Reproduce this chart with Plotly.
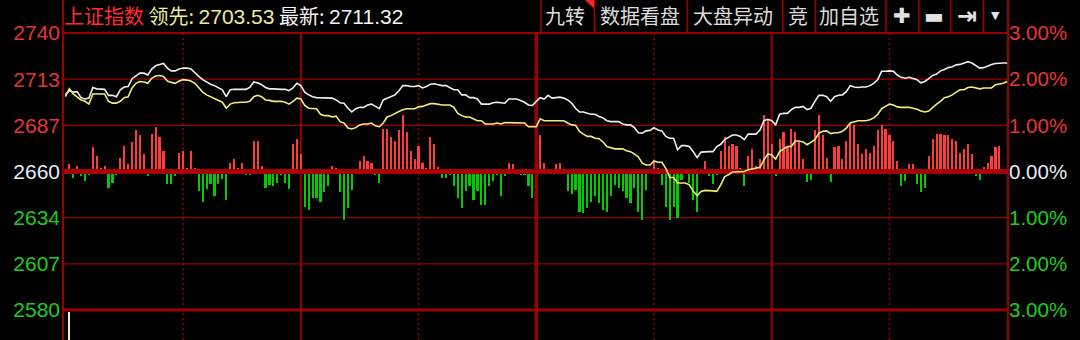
import plotly.graph_objects as go

# ---------------- data ----------------
minutes = list(range(241))

# 上证指数 (white) – percent change vs previous close, one value per minute
white_pct = [
    1.66, 1.75, 1.72, 1.73, 1.60, 1.57, 1.59, 1.82, 1.79, 1.79,
    1.78, 1.65, 1.65, 1.62, 1.77, 1.83, 1.84, 2.01, 2.08, 2.13,
    2.13, 2.09, 2.22, 2.29, 2.32, 2.34, 2.24, 2.18, 2.18, 2.22,
    2.24, 2.24, 2.22, 2.13, 2.06, 1.99, 1.94, 1.89, 1.86, 1.82,
    1.77, 1.62, 1.77, 1.78, 1.78, 1.78, 1.78, 1.82, 1.94, 1.92,
    1.88, 1.82, 1.79, 1.79, 1.78, 1.78, 1.78, 1.75, 1.81, 1.91,
    1.86, 1.72, 1.66, 1.62, 1.60, 1.60, 1.59, 1.59, 1.59, 1.55,
    1.49, 1.48, 1.37, 1.29, 1.36, 1.39, 1.39, 1.44, 1.46, 1.41,
    1.36, 1.55, 1.59, 1.63, 1.66, 1.75, 1.86, 1.86, 1.84, 1.84,
    1.86, 1.81, 1.84, 1.89, 1.90, 1.88, 1.86, 1.86, 1.81, 1.77,
    1.77, 1.66, 1.66, 1.60, 1.60, 1.57, 1.46, 1.46, 1.46, 1.49,
    1.50, 1.49, 1.48, 1.57, 1.57, 1.57, 1.54, 1.50, 1.44, 1.43,
    1.52, 1.60, 1.57, 1.65, 1.59, 1.60, 1.61, 1.59, 1.55, 1.48,
    1.37, 1.29, 1.29, 1.26, 1.24, 1.24, 1.19, 1.16, 1.10, 1.08,
    1.08, 1.08, 1.03, 1.01, 1.01, 0.95, 0.84, 0.83, 0.88, 0.89,
    0.95, 0.90, 0.88, 0.76, 0.72, 0.72, 0.47, 0.56, 0.56, 0.54,
    0.43, 0.30, 0.42, 0.43, 0.43, 0.43, 0.54, 0.59, 0.69, 0.74,
    0.79, 0.79, 0.76, 0.69, 0.81, 0.81, 0.81, 0.90, 1.10, 1.13,
    1.10, 1.01, 1.24, 1.26, 1.26, 1.34, 1.39, 1.39, 1.41, 1.34,
    1.37, 1.52, 1.65, 1.65, 1.62, 1.52, 1.62, 1.65, 1.66, 1.73,
    1.86, 1.83, 1.82, 1.83, 1.83, 1.86, 1.91, 1.99, 2.17, 2.17,
    2.18, 2.17, 2.09, 2.04, 2.02, 2.04, 2.01, 1.99, 1.92, 1.95,
    2.01, 2.08, 2.11, 2.18, 2.21, 2.25, 2.27, 2.31, 2.32, 2.35,
    2.38, 2.35, 2.30, 2.24, 2.25, 2.29, 2.32, 2.34, 2.35, 2.35,
    2.35,
]

# 领先 (yellow) – percent change, one value per minute
yellow_pct = [
    1.62, 1.79, 1.68, 1.62, 1.55, 1.52, 1.46, 1.68, 1.68, 1.68,
    1.68, 1.52, 1.48, 1.48, 1.52, 1.60, 1.62, 1.81, 1.91, 1.95,
    1.94, 1.91, 2.02, 2.07, 2.08, 2.06, 1.96, 1.93, 1.91, 1.96,
    1.99, 1.98, 1.96, 1.91, 1.82, 1.72, 1.66, 1.62, 1.59, 1.55,
    1.50, 1.37, 1.46, 1.49, 1.50, 1.50, 1.50, 1.52, 1.62, 1.65,
    1.62, 1.55, 1.54, 1.52, 1.52, 1.52, 1.50, 1.46, 1.52, 1.59,
    1.57, 1.43, 1.37, 1.36, 1.36, 1.24, 1.21, 1.21, 1.18, 1.20,
    1.08, 1.05, 0.94, 0.92, 0.95, 1.01, 1.03, 1.03, 1.05, 0.99,
    0.97, 1.05, 1.18, 1.21, 1.26, 1.30, 1.34, 1.36, 1.36, 1.36,
    1.40, 1.41, 1.44, 1.47, 1.47, 1.45, 1.44, 1.44, 1.44, 1.39,
    1.26, 1.21, 1.18, 1.18, 1.14, 1.10, 1.10, 1.03, 1.03, 1.03,
    1.05, 1.03, 1.06, 1.06, 1.06, 1.06, 1.06, 1.05, 0.97, 0.97,
    0.97, 1.14, 1.10, 1.10, 1.10, 1.10, 1.10, 1.10, 1.05, 1.01,
    1.00, 0.87, 0.81, 0.76, 0.76, 0.72, 0.71, 0.64, 0.54, 0.51,
    0.49, 0.49, 0.49, 0.45, 0.43, 0.38, 0.32, 0.18, 0.14, 0.14,
    0.23, 0.20, 0.20, 0.07, -0.13, -0.13, -0.25, -0.25, -0.25, -0.29,
    -0.43, -0.52, -0.43, -0.41, -0.41, -0.42, -0.43, -0.29, -0.11, -0.07,
    -0.01, -0.01, -0.01, 0.00, 0.04, 0.06, 0.07, 0.09, 0.25, 0.38,
    0.36, 0.27, 0.43, 0.49, 0.54, 0.54, 0.66, 0.66, 0.64, 0.58,
    0.64, 0.69, 0.83, 0.87, 0.88, 0.82, 0.84, 0.84, 0.87, 0.94,
    1.05, 1.08, 1.10, 1.10, 1.10, 1.12, 1.16, 1.24, 1.36, 1.41,
    1.46, 1.44, 1.40, 1.39, 1.39, 1.39, 1.37, 1.35, 1.31, 1.29,
    1.31, 1.39, 1.46, 1.52, 1.60, 1.62, 1.66, 1.72, 1.77, 1.77,
    1.82, 1.83, 1.81, 1.79, 1.81, 1.81, 1.81, 1.88, 1.89, 1.91,
    1.95,
]

# red / green strength bars (in the same percent units), one per minute
momentum = [
    0, 0.16, -0.13, 0.12, -0.09, -0.20, -0.06, 0.52, 0.34, 0.07,
    0.12, -0.35, -0.24, -0.06, 0.30, 0.56, 0.16, 0.64, 0.89, 0.78,
    0.38, -0.09, 0.82, 0.97, 0.74, 0.45, -0.27, -0.27, -0.09, 0.41,
    0.45, 0.07, 0.45, 0.07, -0.43, -0.65, -0.38, -0.27, -0.54, -0.27,
    -0.17, -0.61, 0.19, 0.27, 0.07, 0.19, -0.06, -0.06, 0.67, 0.67,
    0.12, -0.35, -0.29, -0.31, -0.24, -0.06, -0.24, -0.38, 0.60, 0.71,
    0.38, -0.76, -0.83, -0.58, -0.58, -0.65, -0.45, -0.31, 0.12, 0.07,
    -0.45, -1.05, -0.79, -0.40, -0.02, 0.23, 0.34, 0.23, 0.19, -0.06,
    -0.24, 0.92, 0.92, 0.74, 0.67, 0.89, 1.23, 0.85, 0.45, 0.27,
    0.56, 0.19, 0.07, 0.74, 0.60, 0.09, -0.13, -0.13, -0.06, -0.32,
    -0.58, -0.79, -0.43, -0.31, -0.61, -0.43, -0.72, -0.72, -0.31, -0.20,
    -0.06, -0.54, -0.09, 0.19, 0.16, -0.03, -0.06, -0.06, -0.31, -0.58,
    0, 0.78, 0.19, 0.04, 0.05, 0.16, 0.19, -0.02, -0.43, -0.49,
    -0.40, -0.87, -0.90, -0.79, -0.65, -0.54, -0.69, -0.83, -0.87, -0.54,
    -0.29, -0.35, -0.43, -0.58, -0.69, -0.36, -0.87, -1.05, -0.40, -0.04,
    0.23, 0.07, -0.29, -0.76, -1.05, -0.76, -1.01, -0.18, -0.02, -0.25,
    -0.61, -0.87, -0.02, 0.23, -0.09, -0.27, -0.07, 0.45, 0.74, 0.56,
    0.60, 0.56, 0.07, -0.31, 0.34, 0.48, 0.12, 0.27, 1.23, 1.14,
    0.59, -0.09, 0.71, 0.85, 0.54, 0.92, 0.85, 0.64, 0.27, -0.22,
    -0.18, 0.89, 1.23, 0.78, 0.30, -0.22, 0.53, 0.56, 0.27, 0.67,
    1.03, 1.00, 0.60, 0.38, 0.48, 0.41, 0.56, 0.89, 1.00, 0.92,
    0.78, 0.67, 0.23, -0.31, -0.20, 0.16, 0.16, -0.27, -0.45, -0.35,
    0.34, 0.71, 0.82, 0.82, 0.78, 0.78, 0.71, 0.67, 0.41, 0.48,
    0.60, 0.38, -0.09, -0.18, 0.09, 0.19, 0.34, 0.52, 0.56, 0,
    0,
]

# the single volume bar that reaches into view below the price pane
volume_minutes = [1]
volume_depth = [0.8]

tick_pct = [3, 2, 1, 0, -1, -2, -3]
left_labels = ["2740", "2713", "2687", "2660", "2634", "2607", "2580"]
right_labels = ["3.00%", "2.00%", "1.00%", "0.00%", "1.00%", "2.00%", "3.00%"]
dotted_minutes = [30, 90, 150, 210]
solid_minutes = [60, 180]
noon_minute = [120]

title_name = "上证指数"
lead_label, lead_value = "领先:", "2703.53"
last_label, last_value = "最新:", "2711.32"
toolbar_items = ["九转", "数据看盘", "大盘异动", "竞", "加自选", "✚", "▬", "⇥", "▼"]

# ---------------- styling / layout ----------------
W, H = 1080, 340
ML, MR, MT, MB = 63, 72, 33, 0
X0, X1 = -0.6, 240.2
Y0, Y1 = -3.65, 3.0001
PW, PH = W - ML - MR, H - MT - MB

RED_TXT = "#e53535"
GREEN_TXT = "#1ecc1e"
WHITE_TXT = "#e4ecfa"
GRID = "#9a0000"
BAND = "#a80000"
UP = "#ff3c3c"
DOWN = "#00cc00"
HALF_BAND = 2.5 * (Y1 - Y0) / PH


def px_x(p):
    return (p - ML) / PW


def px_y(p):
    return (H - MB - p) / PH


def colored(t, c, fam=None, size=None):
    st = f"color:{c}"
    if fam:
        st += f";font-family:{fam}"
    if size:
        st += f";font-size:{size}px"
    return f'<span style="{st}">{t}</span>'


label_colors = [RED_TXT, RED_TXT, RED_TXT, WHITE_TXT, GREEN_TXT, GREEN_TXT, GREEN_TXT]

up_x = [m for m, v in zip(minutes, momentum) if v > 0]
up_v = [v for v in momentum if v > 0]
dn_x = [m for m, v in zip(minutes, momentum) if v < 0]
dn_v = [v for v in momentum if v < 0]

fig = go.Figure()
fig.add_trace(go.Bar(x=up_x, y=[max(v - HALF_BAND, 0) for v in up_v], base=HALF_BAND,
                     width=0.55, marker=dict(color=UP, line=dict(width=0)), yaxis="y"))
fig.add_trace(go.Bar(x=dn_x, y=[min(v + HALF_BAND, 0) for v in dn_v], base=-HALF_BAND,
                     width=0.55, marker=dict(color=DOWN, line=dict(width=0)), yaxis="y"))
fig.add_trace(go.Bar(x=volume_minutes, y=[-d for d in volume_depth], base=-3.035,
                     width=0.6, marker=dict(color="#f0f0b8", line=dict(width=0)), yaxis="y"))
fig.add_trace(go.Scatter(x=minutes, y=white_pct, mode="lines",
                         line=dict(color="#eeeeee", width=1.6), yaxis="y2"))
fig.add_trace(go.Scatter(x=minutes, y=yellow_pct, mode="lines",
                         line=dict(color="#eeee78", width=1.6), yaxis="y2"))

shapes = []
# horizontal grid
for lvl in [2, 1, -1, -2]:
    shapes.append(dict(type="line", xref="paper", x0=0, x1=1, yref="y", y0=lvl, y1=lvl,
                       line=dict(color=GRID, width=1.3), layer="below"))
shapes.append(dict(type="line", xref="paper", x0=0, x1=1, yref="y", y0=0, y1=0,
                   line=dict(color=BAND, width=5), layer="below"))
shapes.append(dict(type="line", xref="paper", x0=0, x1=1, yref="y", y0=-3, y1=-3,
                   line=dict(color=GRID, width=3), layer="below"))
shapes.append(dict(type="line", xref="paper", x0=0, x1=1, yref="paper", y0=1, y1=1,
                   line=dict(color=GRID, width=2), layer="below"))
# vertical grid
for m in dotted_minutes:
    shapes.append(dict(type="line", xref="x", x0=m, x1=m, yref="paper", y0=0, y1=1,
                       line=dict(color=GRID, width=1.5, dash="2px,3px"), layer="below"))
for m in solid_minutes:
    shapes.append(dict(type="line", xref="x", x0=m, x1=m, yref="paper", y0=0, y1=1,
                       line=dict(color=GRID, width=2), layer="below"))
for m in noon_minute:
    shapes.append(dict(type="line", xref="x", x0=m, x1=m, yref="paper", y0=0, y1=1,
                       line=dict(color=GRID, width=3.5), layer="below"))
# outer borders (full height)
top = px_y(0)
for xp in [0, 1]:
    shapes.append(dict(type="line", xref="paper", x0=xp, x1=xp, yref="paper", y0=0, y1=top,
                       line=dict(color=GRID, width=2), layer="below"))
# toolbar separators
sep_px = [541, 594.4, 687.4, 782.8, 815.5, 886, 918.8, 950.5, 983.5]
for s in sep_px:
    shapes.append(dict(type="line", xref="paper", x0=px_x(s), x1=px_x(s), yref="paper",
                       y0=1, y1=top, line=dict(color=GRID, width=1.6), layer="below"))
# red corner mark on 九转
shapes.append(dict(type="path", xref="paper", yref="paper",
                   path=f"M {px_x(585)} {px_y(0)} L {px_x(594)} {px_y(0)} L {px_x(594)} {px_y(8.5)} Z",
                   fillcolor="#ff2020", line=dict(width=0)))

annotations = []
LAT = "Liberation Sans"
title_txt = (colored(title_name, "#ff2d2d") + " "
             + colored(lead_label, "#ecec9a") + " " + colored(lead_value, "#ecec9a", LAT, 21) + " "
             + colored(last_label, "#f4f4f4") + " " + colored(last_value, "#f4f4f4", LAT, 21))
annotations.append(dict(xref="paper", yref="paper", x=px_x(61.5), y=px_y(16), xanchor="left",
                        yanchor="middle", text=title_txt, showarrow=False,
                        font=dict(family="Noto Sans CJK SC", size=20)))
item_centres = [565, 640, 733, 798, 849, 901.5, 934, 967, 995]
for txt, c in zip(toolbar_items, item_centres):
    if txt in ("✚", "▬"):
        f = dict(family="DejaVu Sans", size=21, color="#e2e2e2")
    elif txt == "⇥":
        f = dict(family="DejaVu Sans", size=24, color="#e2e2e2", weight="bold")
    elif txt == "▼":
        f = dict(family="DejaVu Sans", size=11, color="#e2e2e2")
    else:
        f = dict(family="Noto Sans CJK SC", size=20, color="#dcdcdc")
    annotations.append(dict(xref="paper", yref="paper", x=px_x(c), y=px_y(16), xanchor="center",
                            yanchor="middle", text=txt, showarrow=False, font=f))

fig.update_layout(
    width=W, height=H, margin=dict(l=ML, r=MR, t=MT, b=MB, pad=0),
    paper_bgcolor="black", plot_bgcolor="black", showlegend=False,
    barmode="overlay", bargap=0,
    xaxis=dict(range=[X0, X1], showgrid=False, zeroline=False, showticklabels=False,
               ticks="", showline=False, fixedrange=True),
    yaxis=dict(range=[Y0, Y1], tickvals=tick_pct,
               ticktext=[colored(t, c) for t, c in zip(left_labels, label_colors)],
               showgrid=False, zeroline=False, ticks="", showline=False, ticklabelstandoff=2,
               tickfont=dict(family="Liberation Sans", size=21), fixedrange=True),
    yaxis2=dict(range=[Y0, Y1], overlaying="y", side="right", tickvals=tick_pct,
                ticktext=[colored(t, c) for t, c in zip(right_labels, label_colors)],
                showgrid=False, zeroline=False, ticks="", showline=False,
                tickfont=dict(family="Liberation Sans", size=20.5), fixedrange=True),
    shapes=shapes, annotations=annotations,
)

fig.write_html("out.html")
